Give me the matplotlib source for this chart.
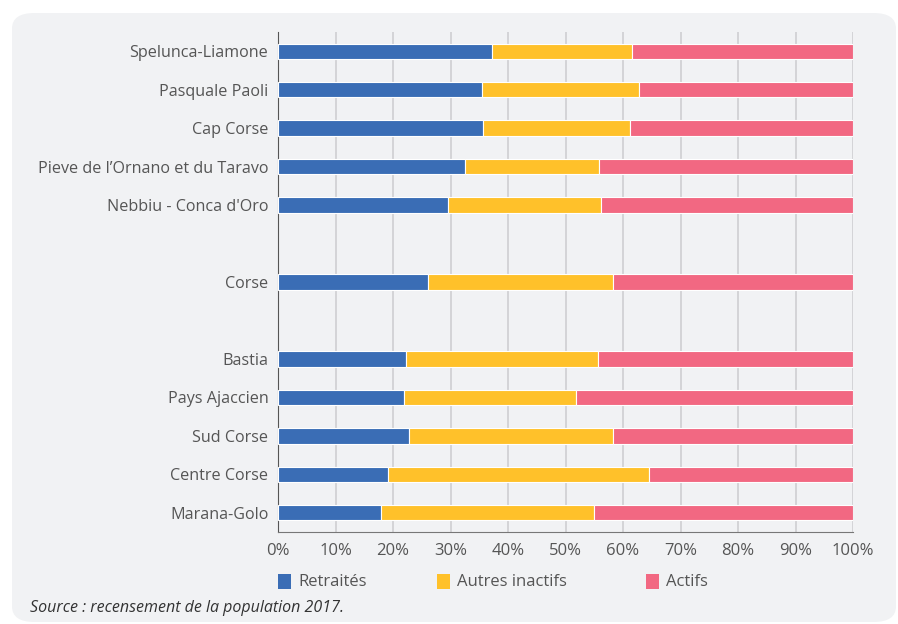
import numpy as np
import matplotlib.pyplot as plt
from matplotlib.patches import FancyBboxPatch, Rectangle

# ----------------------------------------------------------------------
# Data (share of population, %)
# ----------------------------------------------------------------------
territories = [
    "Spelunca-Liamone", "Pasquale Paoli", "Cap Corse",
    "Pieve de l\u2019Ornano et du Taravo", "Nebbiu - Conca d'Oro",
    "Corse",
    "Bastia", "Pays Ajaccien", "Sud Corse", "Centre Corse", "Marana-Golo",
]
slots = [0, 1, 2, 3, 4, 6, 8, 9, 10, 11, 12]   # empty rows separate groups

retraites = [37.2, 35.4, 35.6, 32.5, 29.6, 26.0, 22.2, 21.9, 22.7, 19.1, 17.9]
autres_inactifs = [24.4, 27.3, 25.6, 23.3, 26.5, 32.3, 33.4, 29.9, 35.6, 45.4, 37.0]
actifs = [100 - a - b for a, b in zip(retraites, autres_inactifs)]

series = ["Retraités", "Autres inactifs", "Actifs"]
colors = ["#3A6DB5", "#FFC12A", "#F26882"]

BG = "#F1F2F4"
plt.rcParams["font.family"] = ["Open Sans", "DejaVu Sans"]

fig = plt.figure(figsize=(8.98, 6.24), dpi=100)
W, H = 898, 624

# rounded grey panel (behind everything)
fig.patches.append(FancyBboxPatch(
    (12 / W, 2 / H), 884 / W, 609 / H,
    boxstyle="round,pad=0,rounding_size=0.025",
    transform=fig.transFigure, facecolor=BG, edgecolor="none", zorder=-10))

ax = fig.add_axes([278 / W, 1 - 532 / H, 575 / W, 500 / H])
ax.set_facecolor("none")
ax.set_zorder(1)

left = np.zeros(len(territories))
for vals, col in zip([retraites, autres_inactifs, actifs], colors):
    ax.barh(slots, vals, left=left, height=0.4, color=col,
            edgecolor="white", linewidth=0.8, zorder=3)
    left += np.array(vals)

ax.set_xlim(0, 100)
ax.set_ylim(12.5, -0.5)
ax.set_xticks(np.arange(0, 101, 10))
ax.set_xticklabels([f"{v}%" for v in range(0, 101, 10)])
ax.set_yticks(slots)
ax.set_yticklabels(territories)
ax.tick_params(axis="both", length=0, labelcolor="#555555")
ax.tick_params(axis="x", pad=8, labelsize=12)
ax.tick_params(axis="y", pad=7, labelsize=11.6)
ax.grid(axis="x", color="#CFCFD2", linewidth=1.2, zorder=0)
for s in ["top", "right"]:
    ax.spines[s].set_visible(False)
ax.spines["left"].set_color("#555555")
ax.spines["bottom"].set_color("#777777")

# legend
leg_x = [278, 437, 646]
for x, name, col in zip(leg_x, series, colors):
    fig.patches.append(Rectangle((x / W, 1 - 589 / H), 13 / W, 15 / H,
                                 transform=fig.transFigure, facecolor=col,
                                 edgecolor="none"))
    fig.text((x + 20) / W, 1 - 582 / H, name, fontsize=12, color="#555555",
             va="center", ha="left")

fig.text(30 / W, 1 - 608 / H, "Source : recensement de la population 2017.",
         fontsize=11.5, style="italic", color="#333333", va="center", ha="left")

fig.savefig("out.png", dpi=100)
